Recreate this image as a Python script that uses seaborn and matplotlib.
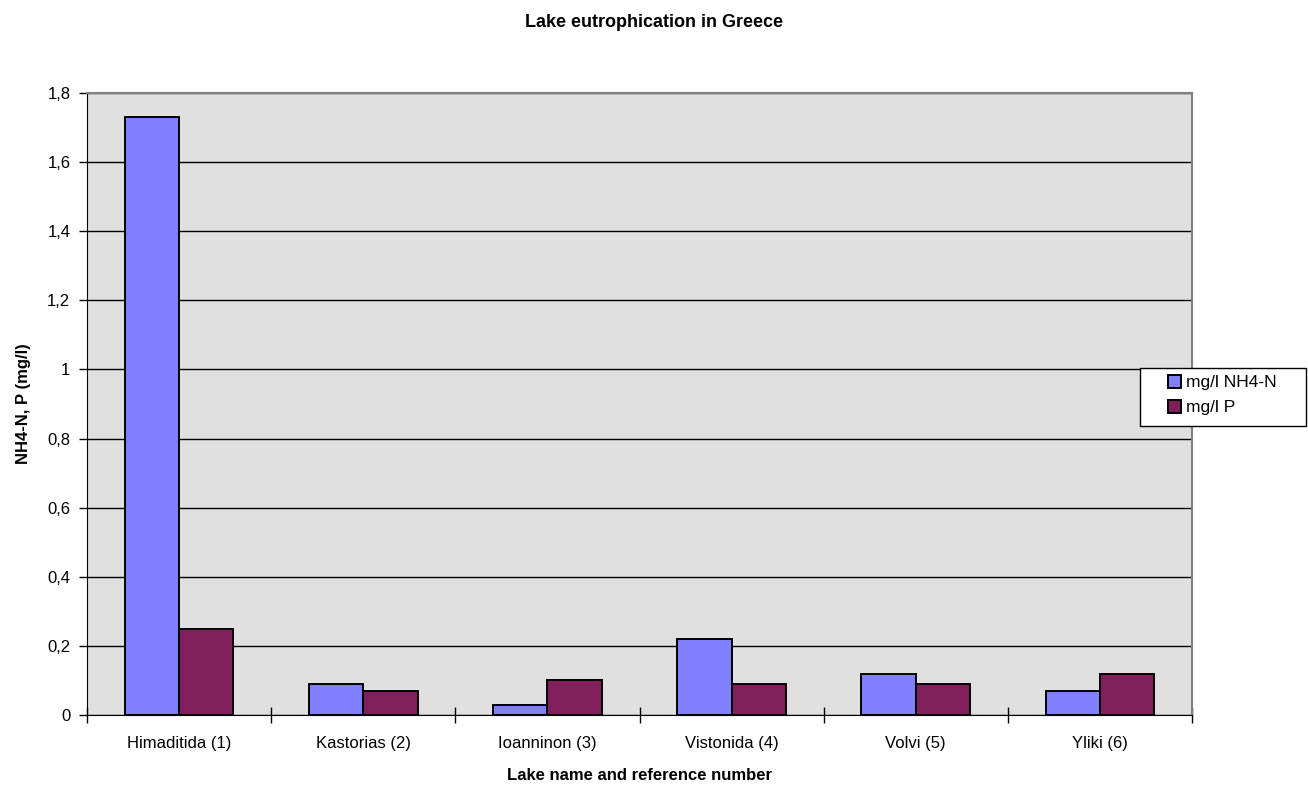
import numpy as np
import pandas as pd
import seaborn as sns
import matplotlib.pyplot as plt
from matplotlib.patches import Rectangle

lakes = ["Himaditida (1)", "Kastorias (2)", "Ioanninon (3)", "Vistonida (4)", "Volvi (5)", "Yliki (6)"]
nh4_n = [1.73, 0.09, 0.03, 0.22, 0.12, 0.07]
p_val = [0.25, 0.07, 0.10, 0.09, 0.09, 0.12]
series = ["mg/l NH4-N", "mg/l P"]
colors = ["#8080FF", "#801F5C"]
y_ticks = [0, 0.2, 0.4, 0.6, 0.8, 1, 1.2, 1.4, 1.6, 1.8]

df = pd.DataFrame({
    "lake": lakes * 2,
    "value": nh4_n + p_val,
    "series": [series[0]] * len(lakes) + [series[1]] * len(lakes),
})

plt.rcParams["font.family"] = ["Liberation Sans", "DejaVu Sans"]

W, H = 1308, 787
fig = plt.figure(figsize=(W / 100, H / 100), dpi=100)
ax = fig.add_axes([87 / W, 1 - 715 / H, 1105 / W, 622 / H])

sns.barplot(data=df, x="lake", y="value", hue="series", palette=colors,
            width=0.59, gap=0, edgecolor="black", linewidth=1.4,
            saturation=1, ax=ax, legend=True)

ax.set_facecolor("#E0E0E0")
ax.set_ylim(0, 1.8)
ax.set_xlim(-0.5, len(lakes) - 0.5)
ax.set_yticks(y_ticks)
ax.set_yticklabels([f"{t:g}".replace(".", ",") for t in y_ticks], fontsize=12)
ax.yaxis.grid(True, color="black", linewidth=1)
ax.set_axisbelow(True)

# category labels at centres, tick marks at boundaries
ax.set_xticks(np.arange(len(lakes)))
ax.set_xticklabels(lakes, fontsize=12)
ax.tick_params(axis="x", which="major", length=0, pad=15)
ax.set_xticks(np.arange(-0.5, len(lakes)), minor=True)
ax.tick_params(axis="x", which="minor", direction="inout", length=11, width=1, color="black")
ax.tick_params(axis="y", length=6, width=1, color="black", pad=6)

for side in ["top", "right"]:
    ax.spines[side].set_color("#808080")
    ax.spines[side].set_linewidth(1.5)
ax.spines["left"].set_color("black")
ax.spines["bottom"].set_color("black")

ax.set_xlabel("Lake name and reference number", fontsize=12, fontweight="bold", labelpad=12)
ax.set_ylabel("NH4-N, P (mg/l)", fontsize=12, fontweight="bold", labelpad=12)
fig.suptitle("Lake eutrophication in Greece", fontsize=13, fontweight="bold", y=0.982)

# legend sits partly over the plot area, framed by its own box
handles, labels = ax.get_legend_handles_labels()
ax.get_legend().remove()
fig.patches.append(Rectangle((1140 / W, 1 - 426 / H), 166 / W, 58 / H,
                             transform=fig.transFigure, facecolor="white",
                             edgecolor="black", linewidth=1, zorder=4))
leg = fig.legend(handles, labels, loc="upper left", bbox_to_anchor=(1155 / W, 1 - 362 / H),
                 fontsize=12.5, frameon=False,
                 handlelength=0.75, handleheight=0.75, handletextpad=0.3,
                 borderpad=0.25, labelspacing=0.55)
leg.set_zorder(5)

fig.savefig("out.png", dpi=100)
